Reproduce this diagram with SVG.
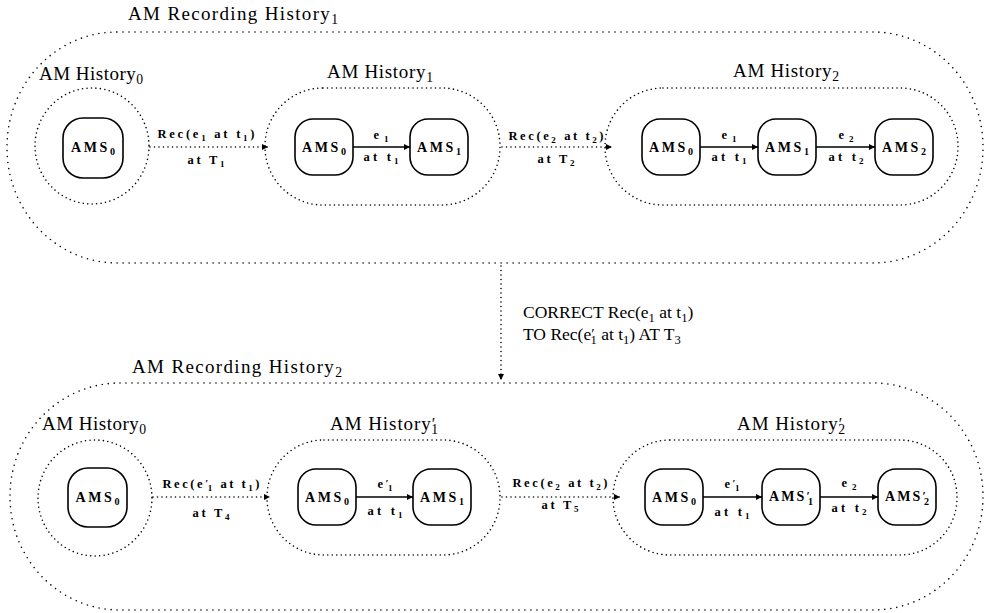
<svg xmlns="http://www.w3.org/2000/svg" width="988" height="613" viewBox="0 0 988 613">
  <style>
    .bg { fill: #ffffff; }
    .outer { fill: none; stroke: #000; stroke-width: 1.6; stroke-dasharray: 0 6; stroke-linecap: round; }
    .inner { fill: none; stroke: #000; stroke-width: 1.6; stroke-dasharray: 0 4.5; stroke-linecap: round; }
    .box { fill: #fff; stroke: #000; stroke-width: 1.6; }
    .solid { fill: none; stroke: #000; stroke-width: 1.6; }
    .dotted { fill: none; stroke: #000; stroke-width: 1.6; stroke-dasharray: 0 4.5; stroke-linecap: round; }
    .title { font-family: "Liberation Serif", "Times New Roman", serif; font-size: 19px; fill: #000; }
    .note { font-family: "Liberation Serif", "Times New Roman", serif; font-size: 17.5px; fill: #000; }
    .ams { font-family: "Liberation Serif", "Times New Roman", serif; font-weight: bold; font-size: 14px; fill: #000; text-anchor: middle; }
    .lbl { font-family: "Liberation Serif", "Times New Roman", serif; font-weight: bold; font-size: 12.5px; fill: #000; text-anchor: middle; }
    .sb { font-size: 72%; }
    .pr { font-size: 85%; }
  </style>
  <defs>
    <marker id="arrow" viewBox="0 0 10 10" refX="10" refY="5" markerWidth="9" markerHeight="6" markerUnits="userSpaceOnUse" orient="auto">
      <path d="M0,0 L10,5 L0,10 z" fill="#000"/>
    </marker>
  </defs>
  <rect class="bg" x="0" y="0" width="988" height="613"/>

  <!-- ===== Recording history 1 ===== -->
  <g id="rec-history-1">
    <rect class="outer" x="7" y="32" width="976" height="231" rx="110" ry="115"/>
    <text class="title" x="128" y="20" textLength="210" lengthAdjust="spacing">AM Recording History<tspan class="sb" dy="4">1</tspan></text>
  </g>

  <g id="h1-history0">
    <ellipse class="inner" cx="92" cy="146" rx="57" ry="58"/>
    <text class="title" x="39" y="80" textLength="104" lengthAdjust="spacing">AM History<tspan class="sb" dy="4">0</tspan></text>
  </g>
  <g id="h1-history0-ams0">
    <rect class="box" x="63" y="118" width="60" height="60" rx="20"/>
    <text class="ams" x="93" y="152" textLength="44" lengthAdjust="spacing">AMS<tspan class="sb" dy="3">0</tspan></text>
  </g>

  <g id="h1-history1">
    <rect class="inner" x="265" y="88" width="235" height="117" rx="58" ry="58"/>
    <text class="title" x="327" y="78" textLength="106" lengthAdjust="spacing">AM History<tspan class="sb" dy="4">1</tspan></text>
  </g>
  <g id="h1-history1-ams0">
    <rect class="box" x="295" y="119" width="58" height="56" rx="18"/>
    <text class="ams" x="324" y="152" textLength="44" lengthAdjust="spacing">AMS<tspan class="sb" dy="3">0</tspan></text>
  </g>
  <g id="h1-history1-ams1">
    <rect class="box" x="410" y="119" width="58" height="56" rx="18"/>
    <text class="ams" x="439" y="152" textLength="44" lengthAdjust="spacing">AMS<tspan class="sb" dy="3">1</tspan></text>
  </g>

  <g id="h1-history2">
    <rect class="inner" x="605" y="88" width="353" height="117" rx="58" ry="58"/>
    <text class="title" x="733" y="77" textLength="106" lengthAdjust="spacing">AM History<tspan class="sb" dy="4">2</tspan></text>
  </g>
  <g id="h1-history2-ams0">
    <rect class="box" x="642" y="119" width="58" height="56" rx="18"/>
    <text class="ams" x="671" y="152" textLength="44" lengthAdjust="spacing">AMS<tspan class="sb" dy="3">0</tspan></text>
  </g>
  <g id="h1-history2-ams1">
    <rect class="box" x="758" y="119" width="58" height="56" rx="18"/>
    <text class="ams" x="787" y="152" textLength="44" lengthAdjust="spacing">AMS<tspan class="sb" dy="3">1</tspan></text>
  </g>
  <g id="h1-history2-ams2">
    <rect class="box" x="875" y="119" width="58" height="56" rx="18"/>
    <text class="ams" x="904" y="152" textLength="44" lengthAdjust="spacing">AMS<tspan class="sb" dy="3">2</tspan></text>
  </g>

  <!-- ===== Recording history 2 ===== -->
  <g id="rec-history-2">
    <rect class="outer" x="10" y="383" width="973" height="227" rx="110" ry="113"/>
    <text class="title" x="132" y="373" textLength="210" lengthAdjust="spacing">AM Recording History<tspan class="sb" dy="4">2</tspan></text>
  </g>

  <g id="h2-history0">
    <ellipse class="inner" cx="95" cy="498" rx="57" ry="58"/>
    <text class="title" x="42" y="430" textLength="104" lengthAdjust="spacing">AM History<tspan class="sb" dy="4">0</tspan></text>
  </g>
  <g id="h2-history0-ams0">
    <rect class="box" x="68" y="468" width="59" height="59" rx="20"/>
    <text class="ams" x="97.5" y="502" textLength="44" lengthAdjust="spacing">AMS<tspan class="sb" dy="3">0</tspan></text>
  </g>

  <g id="h2-history1p">
    <rect class="inner" x="267" y="440" width="233" height="115" rx="57" ry="57"/>
    <text class="title" x="330" y="430" textLength="108" lengthAdjust="spacing">AM History<tspan class="pr" dy="-1">′</tspan><tspan class="sb" dx="-5" dy="5">1</tspan></text>
  </g>
  <g id="h2-history1p-ams0">
    <rect class="box" x="298" y="469" width="58" height="56" rx="18"/>
    <text class="ams" x="327" y="502" textLength="44" lengthAdjust="spacing">AMS<tspan class="sb" dy="3">0</tspan></text>
  </g>
  <g id="h2-history1p-ams1">
    <rect class="box" x="413" y="469" width="58" height="56" rx="18"/>
    <text class="ams" x="442" y="502" textLength="44" lengthAdjust="spacing">AMS<tspan class="sb" dy="3">1</tspan></text>
  </g>

  <g id="h2-history2p">
    <rect class="inner" x="613" y="440" width="344" height="115" rx="57" ry="57"/>
    <text class="title" x="737" y="430" textLength="108" lengthAdjust="spacing">AM History<tspan class="pr" dy="-1">′</tspan><tspan class="sb" dx="-5" dy="5">2</tspan></text>
  </g>
  <g id="h2-history2p-ams0">
    <rect class="box" x="645" y="469" width="58" height="56" rx="18"/>
    <text class="ams" x="674" y="502" textLength="44" lengthAdjust="spacing">AMS<tspan class="sb" dy="3">0</tspan></text>
  </g>
  <g id="h2-history2p-ams1p">
    <rect class="box" x="762" y="469" width="58" height="56" rx="18"/>
    <text class="ams" x="791" y="501" textLength="44" lengthAdjust="spacing">AMS<tspan class="pr" dy="-1">′</tspan><tspan class="sb" dx="-4" dy="5">1</tspan></text>
  </g>
  <g id="h2-history2p-ams2p">
    <rect class="box" x="878" y="469" width="58" height="56" rx="18"/>
    <text class="ams" x="907" y="501" textLength="44" lengthAdjust="spacing">AMS<tspan class="pr" dy="-1">′</tspan><tspan class="sb" dx="-4" dy="5">2</tspan></text>
  </g>

  <!-- ===== Connectors ===== -->
  <g id="connectors">
    <!-- recording steps (dotted) -->
    <line class="dotted" x1="150" y1="147" x2="268" y2="147" marker-end="url(#arrow)"/>
    <line class="dotted" x1="502" y1="147" x2="612" y2="147" marker-end="url(#arrow)"/>
    <line class="dotted" x1="153" y1="497" x2="270" y2="497" marker-end="url(#arrow)"/>
    <line class="dotted" x1="502" y1="497" x2="620" y2="497" marker-end="url(#arrow)"/>
    <!-- correction step -->
    <line class="dotted" x1="501" y1="266" x2="501" y2="380" marker-end="url(#arrow)"/>
    <!-- state transitions (solid) -->
    <line class="solid" x1="353" y1="147" x2="410" y2="147" marker-end="url(#arrow)"/>
    <line class="solid" x1="700" y1="147" x2="758" y2="147" marker-end="url(#arrow)"/>
    <line class="solid" x1="816" y1="147" x2="875" y2="147" marker-end="url(#arrow)"/>
    <line class="solid" x1="356" y1="497" x2="413" y2="497" marker-end="url(#arrow)"/>
    <line class="solid" x1="703" y1="497" x2="762" y2="497" marker-end="url(#arrow)"/>
    <line class="solid" x1="820" y1="497" x2="878" y2="497" marker-end="url(#arrow)"/>

    <!-- labels: top row -->
    <text class="lbl" x="206" y="138" textLength="97" lengthAdjust="spacing">Rec(e<tspan class="sb" dy="3">1</tspan><tspan dy="-3"> at t</tspan><tspan class="sb" dy="3">1</tspan><tspan dy="-3">)</tspan></text>
    <text class="lbl" x="206" y="164" textLength="37" lengthAdjust="spacing">at T<tspan class="sb" dy="3">1</tspan></text>
    <text class="lbl" x="381" y="139" textLength="15" lengthAdjust="spacing">e<tspan class="sb" dy="3">1</tspan></text>
    <text class="lbl" x="381" y="161" textLength="35" lengthAdjust="spacing">at t<tspan class="sb" dy="3">1</tspan></text>
    <text class="lbl" x="556" y="140" textLength="95" lengthAdjust="spacing">Rec(e<tspan class="sb" dy="3">2</tspan><tspan dy="-3"> at t</tspan><tspan class="sb" dy="3">2</tspan><tspan dy="-3">)</tspan></text>
    <text class="lbl" x="556" y="163" textLength="37" lengthAdjust="spacing">at T<tspan class="sb" dy="3">2</tspan></text>
    <text class="lbl" x="729" y="139" textLength="15" lengthAdjust="spacing">e<tspan class="sb" dy="3">1</tspan></text>
    <text class="lbl" x="729" y="161" textLength="35" lengthAdjust="spacing">at t<tspan class="sb" dy="3">1</tspan></text>
    <text class="lbl" x="846" y="139" textLength="15" lengthAdjust="spacing">e<tspan class="sb" dy="3">2</tspan></text>
    <text class="lbl" x="846" y="161" textLength="35" lengthAdjust="spacing">at t<tspan class="sb" dy="3">2</tspan></text>

    <!-- correction label -->
    <text class="note" x="523" y="318">CORRECT Rec(e<tspan class="sb" dy="4">1</tspan><tspan dy="-4"> at t</tspan><tspan class="sb" dy="4">1</tspan><tspan dy="-4">)</tspan></text>
    <text class="note" x="523" y="340">TO Rec(e<tspan class="pr" dy="-1">′</tspan><tspan class="sb" dx="-4" dy="5">1</tspan><tspan dy="-4"> at t</tspan><tspan class="sb" dy="4">1</tspan><tspan dy="-4">) AT T</tspan><tspan class="sb" dy="4">3</tspan></text>

    <!-- labels: bottom row -->
    <text class="lbl" x="211" y="488" textLength="97" lengthAdjust="spacing">Rec(e<tspan class="pr" dy="-1">′</tspan><tspan class="sb" dx="-3" dy="4">1</tspan><tspan dy="-3"> at t</tspan><tspan class="sb" dy="3">1</tspan><tspan dy="-3">)</tspan></text>
    <text class="lbl" x="211" y="517" textLength="37" lengthAdjust="spacing">at T<tspan class="sb" dy="3">4</tspan></text>
    <text class="lbl" x="385" y="488" textLength="15" lengthAdjust="spacing">e<tspan class="pr" dy="-1">′</tspan><tspan class="sb" dx="-3" dy="4">1</tspan></text>
    <text class="lbl" x="385" y="515" textLength="35" lengthAdjust="spacing">at t<tspan class="sb" dy="3">1</tspan></text>
    <text class="lbl" x="560" y="487" textLength="95" lengthAdjust="spacing">Rec(e<tspan class="sb" dy="3">2</tspan><tspan dy="-3"> at t</tspan><tspan class="sb" dy="3">2</tspan><tspan dy="-3">)</tspan></text>
    <text class="lbl" x="560" y="509" textLength="37" lengthAdjust="spacing">at T<tspan class="sb" dy="3">5</tspan></text>
    <text class="lbl" x="732" y="488" textLength="15" lengthAdjust="spacing">e<tspan class="pr" dy="-1">′</tspan><tspan class="sb" dx="-3" dy="4">1</tspan></text>
    <text class="lbl" x="732" y="516" textLength="35" lengthAdjust="spacing">at t<tspan class="sb" dy="3">1</tspan></text>
    <text class="lbl" x="849" y="487" textLength="15" lengthAdjust="spacing">e<tspan class="sb" dy="3">2</tspan></text>
    <text class="lbl" x="849" y="512" textLength="35" lengthAdjust="spacing">at t<tspan class="sb" dy="3">2</tspan></text>
  </g>
</svg>
